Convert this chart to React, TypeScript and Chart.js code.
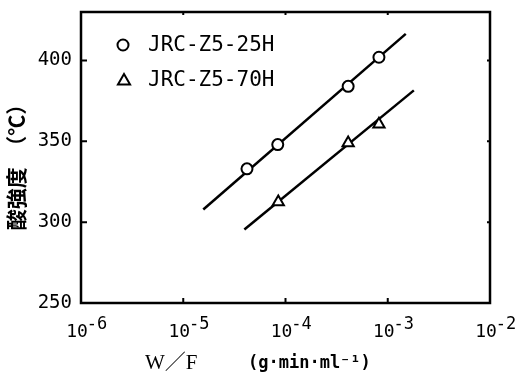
import React, { useEffect, useRef } from 'react';
import { Chart, registerables } from 'chart.js';

Chart.register(...registerables);

// ---- data ----
const seriesNames = ['JRC-Z5-25H', 'JRC-Z5-70H'];
const wf25H = [4.2e-5, 8.4e-5, 4.1e-4, 8.2e-4];
const acid25H = [333, 348, 384, 402];
const wf70H = [8.5e-5, 4.1e-4, 8.2e-4];
const acid70H = [312.5, 349, 360.5];
const fit25HX = [1.57e-5, 1.5e-3];
const fit25HY = [307.8, 416.5];
const fit70HX = [3.96e-5, 1.8e-3];
const fit70HY = [295.5, 381.5];
const xTickValues = [1e-6, 1e-5, 1e-4, 1e-3, 1e-2];
const xTickExponents = ['-6', '-5', '-4', '-3', '-2'];
const xInnerTicks = [1e-5, 1e-4, 1e-3];
const yTickValues = [250, 300, 350, 400];
const yInnerTicks = [300, 350, 400];
const xTitleMain = 'W／F';
const xTitleUnit = '(g·min·ml⁻¹)';
const yTitle = '酸強度　（℃）';

const toPts = (xs: number[], ys: number[]) => xs.map((x, i) => ({ x, y: ys[i] }));

const overlay = {
  id: 'overlay',
  afterDraw(chart: any) {
    const { ctx, chartArea } = chart;
    const { left, right, top, bottom } = chartArea;
    const xs = chart.scales.x;
    const ys = chart.scales.y;
    ctx.save();
    ctx.strokeStyle = '#000';
    ctx.fillStyle = '#000';
    ctx.lineWidth = 2.5;
    ctx.strokeRect(left, top, right - left, bottom - top);
    // inward ticks
    ctx.lineWidth = 2;
    ctx.beginPath();
    xInnerTicks.forEach((v) => {
      const px = xs.getPixelForValue(v);
      ctx.moveTo(px, bottom);
      ctx.lineTo(px, bottom - 5);
      ctx.moveTo(px, top);
      ctx.lineTo(px, top + 3);
    });
    yInnerTicks.forEach((v) => {
      const py = ys.getPixelForValue(v);
      ctx.moveTo(left, py);
      ctx.lineTo(left + 6, py);
      ctx.moveTo(right, py);
      ctx.lineTo(right - 3, py);
    });
    ctx.stroke();

    // x tick labels with superscripts
    ctx.textBaseline = 'alphabetic';
    xTickValues.forEach((v, i) => {
      const px = xs.getPixelForValue(v);
      ctx.font = '18px "DejaVu Sans Mono"';
      ctx.textAlign = 'left';
      const baseW = ctx.measureText('10').width;
      const x0 = px - baseW / 2 - 4;
      ctx.fillText('10', x0, 337);
      ctx.font = '17px "DejaVu Sans Mono"';
      ctx.fillText(xTickExponents[i], x0 + baseW - 1, 329);
    });

    // x title
    ctx.textAlign = 'left';
    ctx.font = '21px "Liberation Serif", "Noto Sans CJK JP"';
    ctx.fillText(xTitleMain, 145, 369);
    ctx.font = 'bold 17px "DejaVu Sans Mono"';
    ctx.fillText(xTitleUnit, 248, 368);

    // y title
    ctx.save();
    ctx.translate(16, 162);
    ctx.rotate(-Math.PI / 2);
    ctx.textAlign = 'center';
    ctx.textBaseline = 'middle';
    ctx.font = 'bold 21px "Noto Sans CJK JP"';
    ctx.fillText(yTitle, 0, 0);
    ctx.restore();

    // legend
    ctx.lineWidth = 2;
    ctx.fillStyle = '#fff';
    ctx.beginPath();
    ctx.arc(123, 45, 5.5, 0, Math.PI * 2);
    ctx.fill();
    ctx.stroke();
    const r = 7;
    const cx = 124, cy = 81;
    ctx.beginPath();
    ctx.moveTo(cx, cy - r);
    ctx.lineTo(cx + Math.sin((2 * Math.PI) / 3) * r, cy - Math.cos((2 * Math.PI) / 3) * r);
    ctx.lineTo(cx + Math.sin((4 * Math.PI) / 3) * r, cy - Math.cos((4 * Math.PI) / 3) * r);
    ctx.closePath();
    ctx.fill();
    ctx.stroke();
    ctx.fillStyle = '#000';
    ctx.font = '21px "DejaVu Sans Mono"';
    ctx.textAlign = 'left';
    ctx.textBaseline = 'middle';
    ctx.fillText(seriesNames[0], 148, 46);
    ctx.fillText(seriesNames[1], 148, 81);
    ctx.restore();
  },
};

export default function App() {
  const ref = useRef<HTMLCanvasElement>(null);
  useEffect(() => {
    if (!ref.current) return;
    const chart = new Chart(ref.current, {
      type: 'scatter',
      data: {
        datasets: [
          {
            label: seriesNames[0],
            data: toPts(wf25H, acid25H),
            pointStyle: 'circle',
            pointRadius: 5.5,
            pointBorderWidth: 2,
            pointBackgroundColor: '#fff',
            pointBorderColor: '#000',
            showLine: false,
          },
          {
            label: seriesNames[1],
            data: toPts(wf70H, acid70H),
            pointStyle: 'triangle',
            pointRadius: 6.5,
            pointBorderWidth: 2,
            pointBackgroundColor: '#fff',
            pointBorderColor: '#000',
            showLine: false,
          },
          {
            label: 'fit 25H',
            data: toPts(fit25HX, fit25HY),
            showLine: true,
            pointRadius: 0,
            borderColor: '#000',
            borderWidth: 2.5,
          },
          {
            label: 'fit 70H',
            data: toPts(fit70HX, fit70HY),
            showLine: true,
            pointRadius: 0,
            borderColor: '#000',
            borderWidth: 2.5,
          },
        ],
      },
      options: {
        responsive: false,
        maintainAspectRatio: false,
        animation: false,
        layout: { padding: { top: 12, right: 29, left: 0, bottom: 0 } },
        plugins: { legend: { display: false }, tooltip: { enabled: false } },
        scales: {
          x: {
            type: 'logarithmic',
            min: 1e-6,
            max: 1e-2,
            grid: { display: false },
            border: { display: false },
            ticks: { display: false },
            afterBuildTicks: (s: any) => {
              s.ticks = xTickValues.map((v) => ({ value: v }));
            },
            afterFit: (s: any) => {
              s.height = 71;
              s.paddingLeft = 0;
              s.paddingRight = 0;
            },
          },
          y: {
            type: 'linear',
            min: 250,
            max: 430,
            grid: { display: false, drawTicks: false },
            border: { display: false },
            ticks: {
              color: '#000',
              padding: 9,
              font: { family: '"DejaVu Sans Mono"', size: 19 },
              callback: (v: any) => String(v),
            },
            afterBuildTicks: (s: any) => {
              s.ticks = yTickValues.map((v) => ({ value: v }));
            },
            afterFit: (s: any) => {
              s.width = 81;
              s.paddingTop = 0;
              s.paddingBottom = 0;
            },
          },
        },
      },
      plugins: [overlay],
    });
    return () => chart.destroy();
  }, []);
  return (
    <div style={{ position: 'fixed', left: 0, top: 0, width: 519, height: 374, background: '#fff' }}>
      <canvas ref={ref} width={519} height={374} />
    </div>
  );
}
